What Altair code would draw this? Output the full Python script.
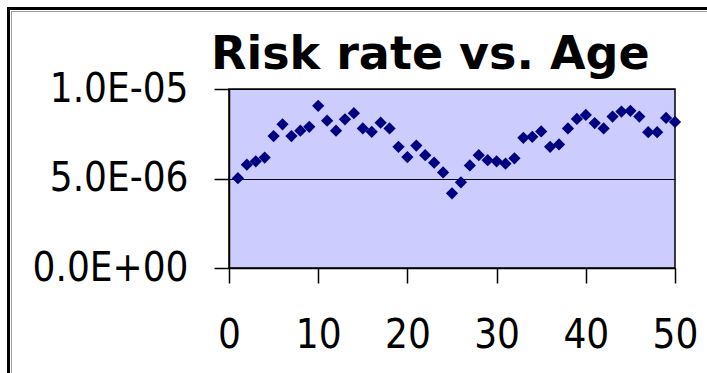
import altair as alt
import pandas as pd

# Chart text and data
title_text = "Risk rate vs. Age"
ages = list(range(1, 51))
risk = [
    5.02e-6, 5.77e-6, 5.96e-6, 6.17e-6, 7.37e-6, 8.03e-6, 7.37e-6, 7.67e-6, 7.89e-6, 9.06e-6,
    8.23e-6, 7.67e-6, 8.31e-6, 8.65e-6, 7.80e-6, 7.61e-6, 8.12e-6, 7.80e-6, 6.77e-6, 6.20e-6,
    6.84e-6, 6.30e-6, 5.88e-6, 5.34e-6, 4.17e-6, 4.79e-6, 5.73e-6, 6.30e-6, 6.02e-6, 5.96e-6,
    5.83e-6, 6.13e-6, 7.27e-6, 7.33e-6, 7.63e-6, 6.77e-6, 6.90e-6, 7.80e-6, 8.33e-6, 8.55e-6,
    8.10e-6, 7.80e-6, 8.46e-6, 8.74e-6, 8.78e-6, 8.46e-6, 7.59e-6, 7.59e-6, 8.38e-6, 8.16e-6,
]
x_ticks = [0, 10, 20, 30, 40, 50]
y_ticks = [0.0, 5e-6, 1e-5]

df = pd.DataFrame({"age": ages, "risk": risk})

W, H = 446, 179
PAD = {"left": 229, "top": 89, "right": 32, "bottom": 105}
LABEL_FONT = "DejaVu Sans Condensed"
LABEL_SIZE = 40

# Scientific labels in the 1.0E-05 style
sci_expr = "replace(replace(format(datum.value, '.1e'), 'e-', 'E-0'), 'e+', 'E+0')"

points = alt.Chart(df).mark_point(
    shape="diamond", filled=True, size=150, color="#000080", opacity=1
).encode(
    x=alt.X(
        "age:Q",
        scale=alt.Scale(domain=[0, 50], nice=False, zero=False),
        axis=alt.Axis(
            values=x_ticks, title=None, grid=False, tickSize=15, labelPadding=32,
            labelFlush=False, labelOverlap=False,
            labelFont=LABEL_FONT, labelFontSize=LABEL_SIZE, labelColor="black",
            domainColor="black", tickColor="black", domainWidth=1.5, tickWidth=1.5,
        ),
    ),
    y=alt.Y(
        "risk:Q",
        scale=alt.Scale(domain=[0, 1e-5], nice=False),
        axis=alt.Axis(
            values=y_ticks, title=None, grid=True, gridColor="black", gridOpacity=1,
            gridWidth=1.2, tickSize=15, labelPadding=26, labelExpr=sci_expr,
            labelFlush=False, labelOverlap=False,
            labelFont=LABEL_FONT, labelFontSize=LABEL_SIZE, labelColor="black",
            domainColor="black", tickColor="black", domainWidth=1.5, tickWidth=1.5,
        ),
    ),
)

# Chart title as a text mark above the plot area
title = alt.Chart(pd.DataFrame({"t": [title_text]})).mark_text(
    font="DejaVu Sans", fontWeight="bold", fontSize=46, align="left",
    baseline="alphabetic", color="black",
).encode(text="t:N", x=alt.value(-18), y=alt.value(-20))

# Outer frame: heavy black line with a thin grey inner line (top and left)
one = pd.DataFrame({"k": [0]})
frame_v = alt.Chart(one).mark_rule(color="black", strokeWidth=3).encode(
    x=alt.value(-220.5), y=alt.value(-82), y2=alt.value(300)
)
frame_h = alt.Chart(one).mark_rule(color="black", strokeWidth=3).encode(
    x=alt.value(-222), x2=alt.value(500), y=alt.value(-80.5)
)
inner_v = alt.Chart(one).mark_rule(color="#a0a0a0", strokeWidth=1).encode(
    x=alt.value(-217.5), y=alt.value(-78), y2=alt.value(300)
)
inner_h = alt.Chart(one).mark_rule(color="#a0a0a0", strokeWidth=1).encode(
    x=alt.value(-218), x2=alt.value(500), y=alt.value(-77.5)
)

chart = alt.layer(points, title, frame_v, frame_h, inner_v, inner_h).properties(
    width=W, height=H,
    autosize=alt.AutoSizeParams(type="none"),
    padding=PAD,
    background="white",
).configure_view(
    fill="#ccccff", stroke="black", strokeWidth=1.5
)

chart.save("out.html", embed_options={"renderer": "svg", "actions": False})
